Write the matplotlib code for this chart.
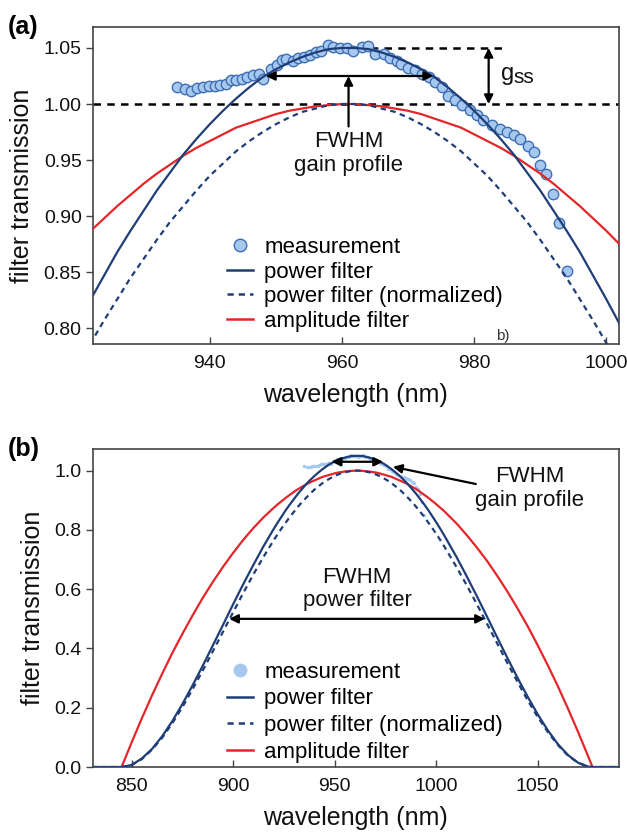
import numpy as np
import matplotlib
matplotlib.use("Agg")
import matplotlib.pyplot as plt
from matplotlib.lines import Line2D

plt.rcParams['font.family'] = ['Liberation Sans', 'DejaVu Sans']

# filter curves (wavelength in nm)
wl = [830, 835, 840, 845, 850, 855, 860, 865, 870, 875, 880, 885, 890, 895,
      900, 905, 910, 915,
      920, 922, 924, 926, 928, 930, 932, 934, 936, 938, 940, 942, 944, 946,
      948, 950, 952, 954, 956, 958, 960, 962, 964, 966, 968, 970, 972, 974,
      976, 978, 980, 982, 984, 986, 988, 990, 992, 994, 996, 998, 1000, 1002,
      1004,
      1010, 1015, 1020, 1025, 1030, 1035, 1040, 1045, 1050, 1055, 1060, 1065,
      1070, 1075, 1077, 1080, 1085, 1090]

amplitude = [0, 0, 0, 0, 0.084, 0.165, 0.242, 0.315, 0.385, 0.450, 0.512,
             0.571, 0.625, 0.676, 0.723, 0.767, 0.807, 0.843,
             0.875, 0.887, 0.898, 0.909, 0.919, 0.929, 0.938, 0.946, 0.954,
             0.961, 0.967, 0.973, 0.979, 0.983, 0.987, 0.991, 0.994, 0.996,
             0.998, 0.999, 1.000, 1.000, 0.999, 0.998, 0.996, 0.994, 0.991,
             0.987, 0.983, 0.979, 0.973, 0.967, 0.961, 0.954, 0.946, 0.938,
             0.929, 0.919, 0.909, 0.898, 0.887, 0.875, 0.863,
             0.822, 0.783, 0.741, 0.696, 0.646, 0.593, 0.536, 0.476, 0.411,
             0.343, 0.272, 0.196, 0.117, 0.034, 0, 0, 0, 0]

power_norm = [0, 0, 0, 0, 0.007, 0.027, 0.059, 0.099, 0.148, 0.203, 0.263,
              0.326, 0.391, 0.457, 0.523, 0.588, 0.651, 0.710,
              0.766, 0.787, 0.807, 0.826, 0.845, 0.862, 0.879, 0.895, 0.909,
              0.923, 0.936, 0.947, 0.958, 0.967, 0.975, 0.982, 0.988, 0.993,
              0.996, 0.999, 1.000, 1.000, 0.999, 0.996, 0.993, 0.988, 0.982,
              0.975, 0.967, 0.958, 0.947, 0.936, 0.923, 0.909, 0.895, 0.879,
              0.862, 0.845, 0.826, 0.807, 0.787, 0.766, 0.744,
              0.675, 0.614, 0.550, 0.484, 0.418, 0.352, 0.288, 0.226, 0.169,
              0.118, 0.074, 0.038, 0.014, 0.001, 0, 0, 0, 0]

power = [0, 0, 0, 0, 0.007, 0.029, 0.061, 0.104, 0.155, 0.213, 0.276, 0.342,
         0.411, 0.480, 0.550, 0.618, 0.683, 0.746,
         0.804, 0.826, 0.847, 0.868, 0.887, 0.905, 0.923, 0.939, 0.955,
         0.969, 0.982, 0.994, 1.005, 1.015, 1.024, 1.031, 1.037, 1.042,
         1.046, 1.049, 1.050, 1.050, 1.049, 1.046, 1.042, 1.037, 1.031,
         1.024, 1.015, 1.005, 0.994, 0.982, 0.969, 0.955, 0.939, 0.923,
         0.905, 0.887, 0.868, 0.847, 0.826, 0.804, 0.781,
         0.709, 0.644, 0.577, 0.508, 0.438, 0.369, 0.302, 0.238, 0.178,
         0.124, 0.077, 0.040, 0.014, 0.001, 0, 0, 0, 0]

# measured gain profile
meas_wl = [935.0, 936.3, 937.2, 938.1, 939.0, 939.9, 940.8, 941.6, 942.4,
           943.2, 944.0, 944.9, 945.7, 946.6, 947.4, 948.1, 949.3, 950.1,
           950.9, 951.6, 952.6, 953.4, 954.2, 955.2, 956.1, 956.9, 957.9,
           958.7, 959.7, 960.7, 961.7, 963.0, 964.0, 965.0, 966.3, 967.3,
           968.3, 969.0, 970.0, 971.1, 972.1, 973.1, 974.1, 975.1, 976.1,
           977.1, 978.1, 979.4, 980.4, 981.4, 982.7, 983.9, 985.0, 986.0,
           987.0, 988.2, 989.0, 990.0, 990.9, 992.0, 992.9, 994.0]
meas_val = [1.015, 1.013, 1.012, 1.014, 1.015, 1.016, 1.016, 1.017, 1.018,
            1.021, 1.021, 1.022, 1.024, 1.026, 1.027, 1.022, 1.031, 1.035,
            1.039, 1.040, 1.038, 1.041, 1.042, 1.044, 1.046, 1.047, 1.053,
            1.051, 1.050, 1.050, 1.047, 1.051, 1.052, 1.045, 1.045, 1.041,
            1.038, 1.036, 1.032, 1.030, 1.027, 1.024, 1.020, 1.015, 1.007,
            1.004, 0.999, 0.995, 0.990, 0.986, 0.981, 0.978, 0.975, 0.972,
            0.969, 0.963, 0.957, 0.946, 0.938, 0.920, 0.894, 0.851]

navy = '#1f3e78'
red = '#e3262a'
lblue = '#a7c8ee'
edge = '#3d6fb5'
frame = '#444444'
ink = '#111111'

wl = np.array(wl)
amp = np.array(amplitude, dtype=float)
amp[(wl < 845) | (wl > 1077)] = np.nan

fig = plt.figure(figsize=(6.27, 8.33), dpi=100)
ax1 = fig.add_axes([0.148, 0.587, 0.839, 0.381])
ax2 = fig.add_axes([0.148, 0.0792, 0.839, 0.3814])

for ax in (ax1, ax2):
    for s in ax.spines.values():
        s.set_color(frame)
        s.set_linewidth(1.2)
    ax.tick_params(axis='x', direction='in', length=5, width=1, colors=frame,
                   labelcolor=ink, labelsize=14, pad=8, top=False)
    ax.tick_params(axis='y', direction='out', length=5, width=1, colors=frame,
                   labelcolor=ink, labelsize=14, pad=3, right=False)
    ax.set_xlabel('wavelength (nm)', fontsize=18, color=ink, labelpad=8)
    ax.set_ylabel('filter transmission', fontsize=18, color=ink, labelpad=7)

# ---- (a) ----
ax1.axhline(1.0, color='black', ls=(0, (3, 2.5)), lw=1.8, zorder=1)
ax1.plot([958, 984.5], [1.05, 1.05], color='black', ls=(0, (3, 2.5)), lw=1.8, zorder=1)
ax1.plot(meas_wl, meas_val, 'o', ms=7.5, mfc=lblue, mec=edge, mew=1.0, zorder=2)
ax1.plot(wl, amp, color=red, lw=1.6, zorder=3)
ax1.plot(wl, power_norm, color=navy, lw=1.6, ls=(0, (2.5, 2)), zorder=3)
ax1.plot(wl, power, color=navy, lw=1.6, zorder=4)

arr = dict(arrowstyle='<|-|>', color='black', lw=1.6, mutation_scale=13,
           shrinkA=0, shrinkB=0)
ax1.annotate('', xy=(948.5, 1.025), xytext=(973.8, 1.025), arrowprops=arr, zorder=5)
ax1.annotate('', xy=(961, 1.025), xytext=(961, 0.980),
             arrowprops=dict(arrowstyle='-|>', color='black', lw=1.6,
                             mutation_scale=13, shrinkA=0, shrinkB=0))
ax1.annotate('', xy=(982.2, 1.05), xytext=(982.2, 1.0), arrowprops=arr)
ax1.text(961, 0.956, 'FWHM\ngain profile', ha='center', va='center',
         fontsize=16, color=ink, linespacing=1.15)
ax1.text(984.0, 1.027, 'g', fontsize=17, va='center', color=ink)
ax1.text(986.0, 1.024, 'ss', fontsize=15, va='center', color=ink)
ax1.text(983.3, 0.793, 'b)', fontsize=11, va='center', color='#333333')

ax1.set_xlim(922.3, 1001.9)
ax1.set_ylim(0.786, 1.069)
ax1.set_xticks([940, 960, 980, 1000])
ax1.set_yticks([0.80, 0.85, 0.90, 0.95, 1.00, 1.05])
ax1.set_yticklabels(['%.2f' % v for v in [0.80, 0.85, 0.90, 0.95, 1.00, 1.05]])

h1 = [Line2D([], [], ls='none', marker='o', ms=9, mfc=lblue, mec=edge, mew=1.0),
      Line2D([], [], color=navy, lw=1.8),
      Line2D([], [], color=navy, lw=1.8, ls=(0, (2.5, 2))),
      Line2D([], [], color=red, lw=1.8)]
labels = ['measurement', 'power filter', 'power filter (normalized)', 'amplitude filter']
ax1.legend(h1, labels, loc='lower left', bbox_to_anchor=(0.225, -0.01),
           frameon=False, fontsize=16, handlelength=1.2, handletextpad=0.5,
           labelspacing=0.16, borderpad=0.2)

fig.text(0.012, 0.968, '(a)', fontsize=18, fontweight='bold', va='center')

# ---- (b) ----
ax2.plot(meas_wl, meas_val, 'o', ms=2.5, color=lblue, mec='none', zorder=2)
ax2.plot(wl, amp, color=red, lw=1.6, zorder=3)
ax2.plot(wl, power_norm, color=navy, lw=1.6, ls=(0, (2.5, 2)), zorder=3)
ax2.plot(wl, power, color=navy, lw=1.6, zorder=4)

ax2.annotate('', xy=(948.5, 1.03), xytext=(973.8, 1.03), arrowprops=arr, zorder=5)
ax2.annotate('', xy=(898, 0.5), xytext=(1024, 0.5), arrowprops=arr, zorder=5)
ax2.annotate('', xy=(978.7, 1.013), xytext=(1019.5, 0.955),
             arrowprops=dict(arrowstyle='-|>', color='black', lw=1.6,
                             mutation_scale=13, shrinkA=0, shrinkB=0))
ax2.text(1046, 0.94, 'FWHM\ngain profile', ha='center', va='center',
         fontsize=16, color=ink, linespacing=1.15)
ax2.text(961, 0.60, 'FWHM\npower filter', ha='center', va='center',
         fontsize=16, color=ink, linespacing=1.15)

ax2.set_xlim(830.8, 1090)
ax2.set_ylim(0, 1.072)
ax2.set_xticks([850, 900, 950, 1000, 1050])
ax2.set_yticks([0, 0.2, 0.4, 0.6, 0.8, 1.0])
ax2.set_yticklabels(['%.1f' % v for v in [0, 0.2, 0.4, 0.6, 0.8, 1.0]])

h2 = [Line2D([], [], ls='none', marker='o', ms=10, mfc=lblue, mec='none')] + h1[1:]
ax2.legend(h2, labels, loc='lower left', bbox_to_anchor=(0.225, -0.035),
           frameon=False, fontsize=16, handlelength=1.2, handletextpad=0.5,
           labelspacing=0.25, borderpad=0.2)

fig.text(0.012, 0.4606, '(b)', fontsize=18, fontweight='bold', va='center')

plt.savefig('out.png', dpi=100)
